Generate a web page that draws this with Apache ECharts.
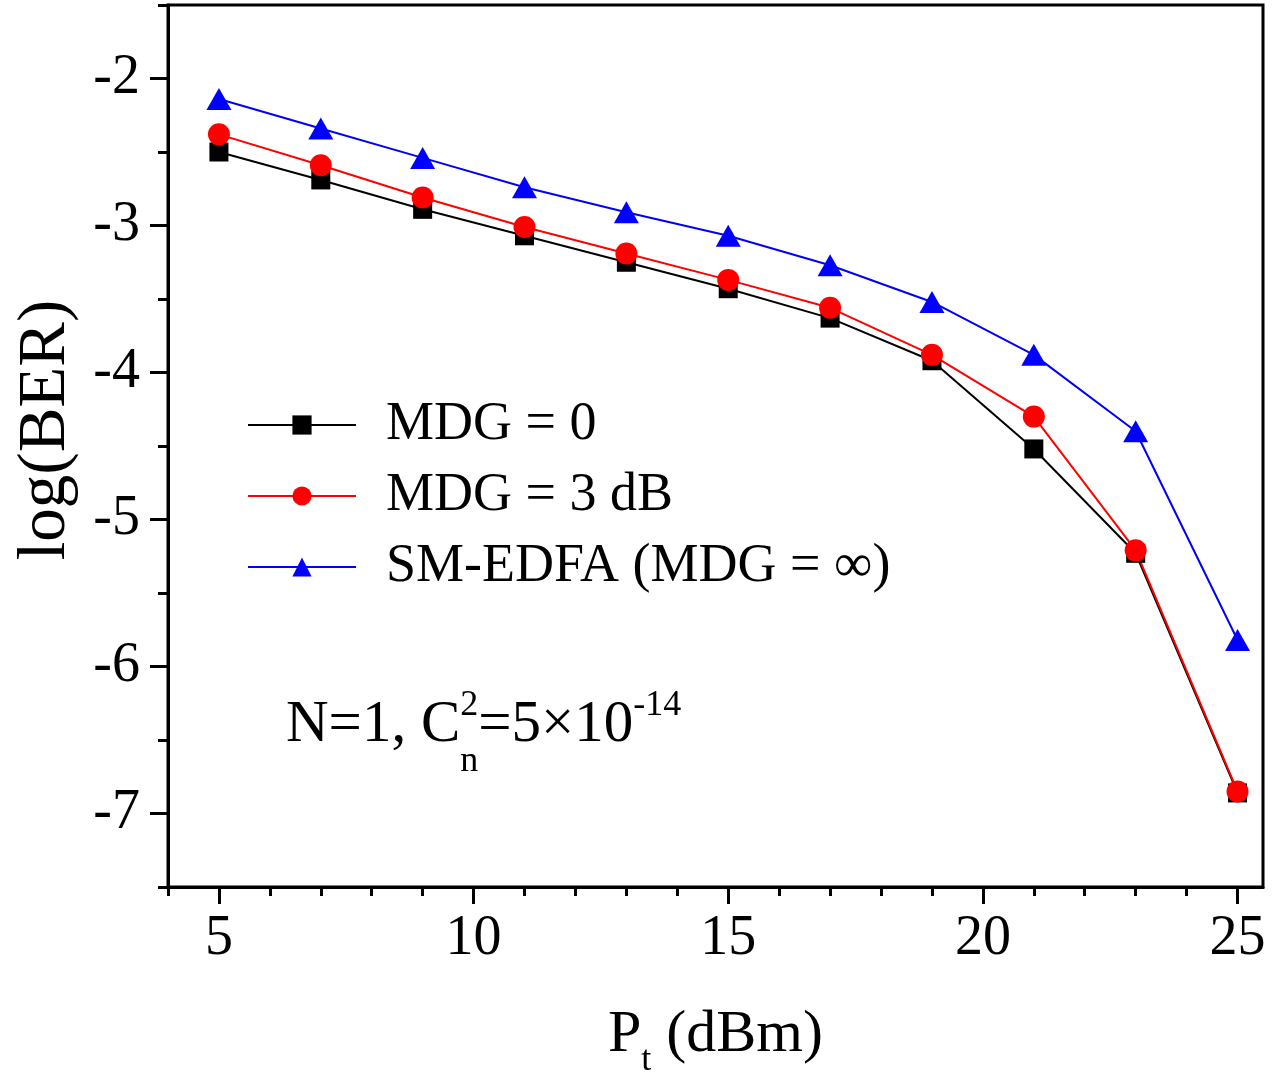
<!DOCTYPE html>
<html>
<head>
<meta charset="utf-8">
<script src="https://cdn.jsdelivr.net/npm/echarts@6/dist/echarts.min.js"></script>
<style>
html,body{margin:0;padding:0;background:#fff;}
#chart{width:1273px;height:1086px;}
</style>
</head>
<body>
<div id="chart"></div>
<script>
// values
var pt = [5, 7, 9, 11, 13, 15, 17, 19, 21, 23, 25];
var mdg0 = [-2.50, -2.69, -2.89, -3.07, -3.25, -3.43, -3.63, -3.92, -4.52, -5.23, -6.86];
var mdg3 = [-2.38, -2.59, -2.81, -3.01, -3.19, -3.37, -3.56, -3.88, -4.30, -5.21, -6.85];
var smEdfa = [-2.14, -2.34, -2.54, -2.74, -2.91, -3.07, -3.27, -3.52, -3.88, -4.40, -5.82];
var seriesNames = ['MDG = 0', 'MDG = 3 dB', 'SM-EDFA (MDG = \u221e)'];
var xMajor = [5, 10, 15, 20, 25];
var xMinor = [4, 6, 7, 8, 9, 11, 12, 13, 14, 16, 17, 18, 19, 21, 22, 23, 24];
var yMajor = [-7, -6, -5, -4, -3, -2];
var yMinor = [-7.5, -6.5, -5.5, -4.5, -3.5, -2.5, -1.5];

var font = "'Liberation Serif', 'Times New Roman', serif";

function pairs(ys) {
    return pt.map(function (x, i) { return [x, ys[i]]; });
}

var chart = echarts.init(document.getElementById('chart'));

var option = {
    backgroundColor: '#fff',
    animation: false,
    grid: {
        left: 168, right: 10, top: 5, bottom: 199,
        show: true, borderColor: '#000', borderWidth: 3,
        outerBoundsMode: 'none'
    },
    legend: {
        orient: 'vertical',
        left: 247,
        top: 398,
        padding: 0,
        itemWidth: 108,
        itemHeight: 24,
        itemGap: 17,
        textStyle: {fontFamily: font, fontSize: 54, color: '#000', padding: [0, 0, 0, 25]},
        data: seriesNames
    },
    xAxis: [{
        type: 'value', min: 4, max: 25.5,
        name: '{a|P}{b|t}{a| (dBm)}',
        nameLocation: 'middle',
        nameGap: 118,
        nameTextStyle: {
            color: '#000',
            rich: {
                a: {fontFamily: font, fontSize: 60, lineHeight: 64, color: '#000', verticalAlign: 'top'},
                b: {fontFamily: font, fontSize: 36, lineHeight: 36, color: '#000', verticalAlign: 'top', padding: [38, 0, 0, 0]}
            }
        },
        axisLine: {show: true, onZero: false, lineStyle: {color: '#000', width: 3}},
        axisTick: {show: true, length: 17, lineStyle: {color: '#000', width: 3}, customValues: xMajor},
        axisLabel: {fontFamily: font, fontSize: 56, color: '#000', margin: 24, customValues: xMajor},
        splitLine: {show: false}
    }, {
        type: 'value', min: 4, max: 25.5, position: 'bottom',
        axisLine: {show: false},
        axisTick: {show: true, length: 9, lineStyle: {color: '#000', width: 3}, customValues: xMinor},
        axisLabel: {show: false},
        splitLine: {show: false}
    }],
    yAxis: [{
        type: 'value', min: -7.5, max: -1.5,
        name: 'log(BER)',
        nameLocation: 'middle',
        nameRotate: 90,
        nameGap: 88,
        nameTextStyle: {fontFamily: font, fontSize: 67, color: '#000', padding: [0, 0, 0, 32]},
        axisLine: {show: true, onZero: false, lineStyle: {color: '#000', width: 3}},
        axisTick: {show: true, length: 18, lineStyle: {color: '#000', width: 3}, customValues: yMajor},
        axisLabel: {fontFamily: font, fontSize: 56, color: '#000', margin: 28, customValues: yMajor},
        splitLine: {show: false}
    }, {
        type: 'value', min: -7.5, max: -1.5, position: 'left',
        axisLine: {show: false},
        axisTick: {show: true, length: 10, lineStyle: {color: '#000', width: 3}, customValues: yMinor},
        axisLabel: {show: false},
        splitLine: {show: false}
    }],
    series: [{
        name: seriesNames[0],
        type: 'line',
        symbol: 'rect',
        symbolSize: 19,
        lineStyle: {color: '#000', width: 2},
        itemStyle: {color: '#000'},
        data: pairs(mdg0)
    }, {
        name: seriesNames[1],
        type: 'line',
        symbol: 'circle',
        symbolSize: 22,
        lineStyle: {color: '#ff0000', width: 2},
        itemStyle: {color: '#ff0000'},
        data: pairs(mdg3)
    }, {
        name: seriesNames[2],
        type: 'line',
        symbol: 'triangle',
        symbolSize: [25, 22],
        lineStyle: {color: '#0000ff', width: 2},
        itemStyle: {color: '#0000ff'},
        data: pairs(smEdfa)
    }],
    graphic: [{
        type: 'text',
        left: 286,
        top: 688,
        style: {
            text: '{m|N=1, C}{s|2}{m|=5\u00d710}{s|-14}',
            fill: '#000',
            rich: {
                m: {fontFamily: font, fontSize: 59, lineHeight: 62, fill: '#000', verticalAlign: 'top', padding: [8, 0, 0, 0]},
                s: {fontFamily: font, fontSize: 36, lineHeight: 36, fill: '#000', verticalAlign: 'top'}
            }
        }
    }, {
        type: 'text',
        left: 286 + 2.953 * 59,
        top: 744,
        style: {text: 'n', fill: '#000', font: '36px ' + font}
    }]
};

chart.setOption(option);
</script>
</body>
</html>
